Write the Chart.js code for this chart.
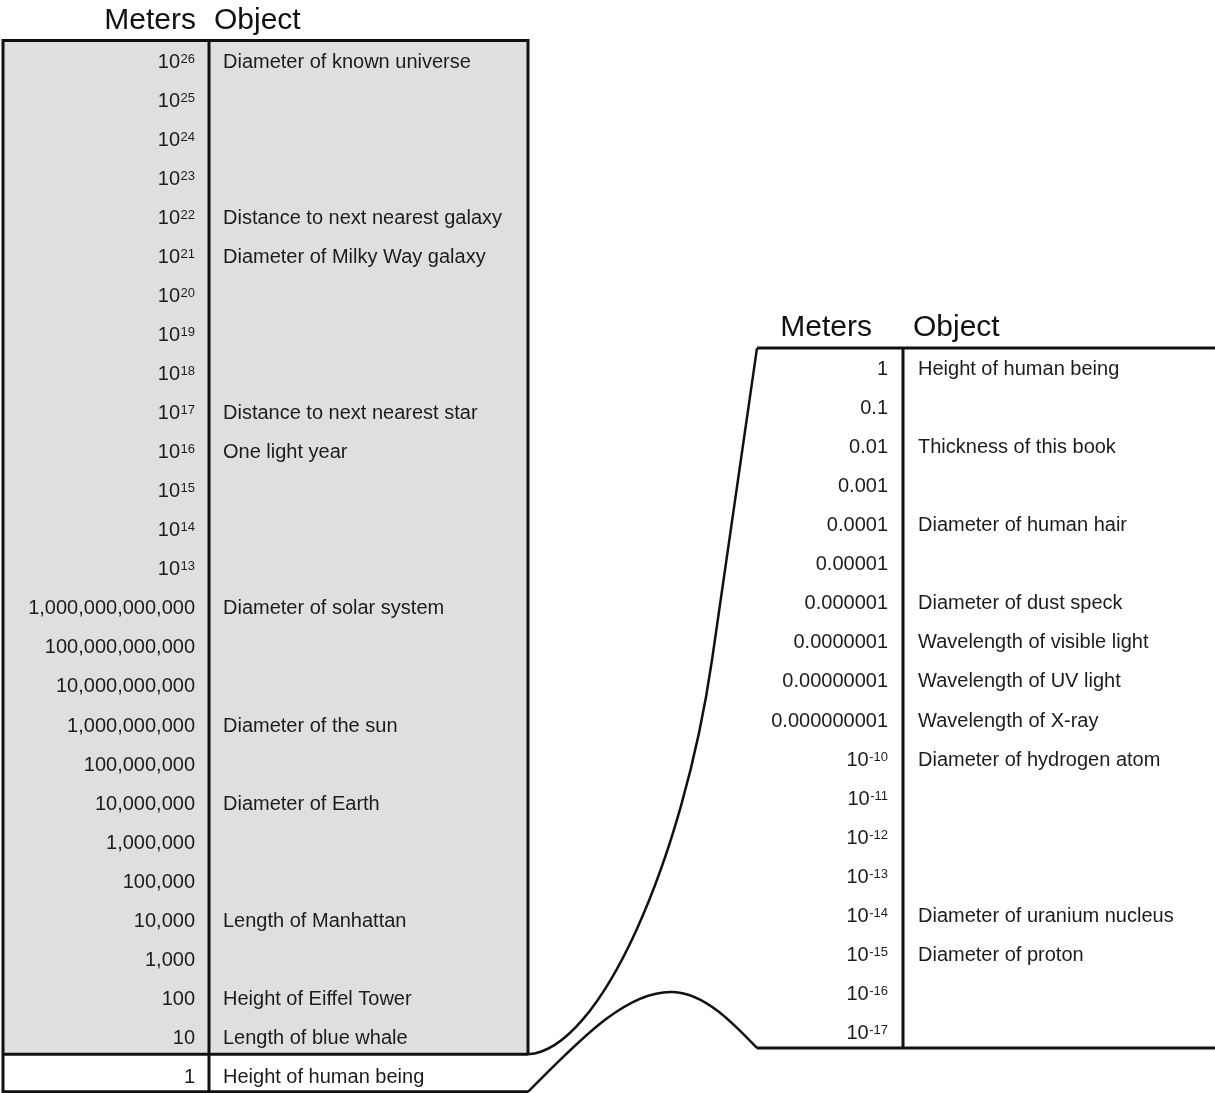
<!DOCTYPE html>
<html>
<head>
<meta charset="utf-8">
<title>Powers of ten</title>
<script src="https://cdn.jsdelivr.net/npm/chart.js@4.4.1/dist/chart.umd.min.js"></script>
<style>
  html, body { margin: 0; padding: 0; background: #fff; }
  #wrap { width: 1215px; height: 1093px; }
</style>
</head>
<body>
<div id="wrap"><canvas id="scaleChart" width="1215" height="1093"></canvas></div>
<script>
// left table: 10^26 m down to 1 m (values are powers of ten)
var leftExponents = [26, 25, 24, 23, 22, 21, 20, 19, 18, 17, 16, 15, 14, 13, 12, 11, 10, 9, 8, 7, 6, 5, 4, 3, 2, 1, 0];
var leftMeters = ["10^26", "10^25", "10^24", "10^23", "10^22", "10^21", "10^20", "10^19", "10^18",
  "10^17", "10^16", "10^15", "10^14", "10^13", "1,000,000,000,000", "100,000,000,000",
  "10,000,000,000", "1,000,000,000", "100,000,000", "10,000,000", "1,000,000", "100,000",
  "10,000", "1,000", "100", "10", "1"];
var leftObjects = ["Diameter of known universe", "", "", "", "Distance to next nearest galaxy",
  "Diameter of Milky Way galaxy", "", "", "", "Distance to next nearest star", "One light year",
  "", "", "", "Diameter of solar system", "", "", "Diameter of the sun", "", "Diameter of Earth",
  "", "", "Length of Manhattan", "", "Height of Eiffel Tower", "Length of blue whale",
  "Height of human being"];

// right table: 1 m down to 10^-17 m
var rightExponents = [0, -1, -2, -3, -4, -5, -6, -7, -8, -9, -10, -11, -12, -13, -14, -15, -16, -17];
var rightMeters = ["1", "0.1", "0.01", "0.001", "0.0001", "0.00001", "0.000001", "0.0000001",
  "0.00000001", "0.000000001", "10^-10", "10^-11", "10^-12", "10^-13", "10^-14", "10^-15",
  "10^-16", "10^-17"];
var rightObjects = ["Height of human being", "", "Thickness of this book", "",
  "Diameter of human hair", "", "Diameter of dust speck", "Wavelength of visible light",
  "Wavelength of UV light", "Wavelength of X-ray", "Diameter of hydrogen atom", "", "", "",
  "Diameter of uranium nucleus", "Diameter of proton", "", ""];

var headers = ["Meters", "Object"];

// layout (pixels on the x scale, axis units on the y scales)
var L = { edge: 3, divider: 209, right: 528, metersX: 195, objectX: 223, headMetersX: 196, headObjectX: 214,
          top: 26.52, split: 0.55, bottom: -0.41, headBase: 26.82 };
var R = { edge: 757, divider: 903, right: 1215, metersX: 888, objectX: 918, headMetersX: 872, headObjectX: 913,
          top: 0.51, bottom: -17.41, headBase: 0.81 };

var ROW_FONT = '20px "Liberation Sans", Arial, sans-serif';
var SUP_FONT = '13px "Liberation Sans", Arial, sans-serif';
var HEAD_FONT = '30px "Liberation Sans", Arial, sans-serif';
var INK = '#1c1c1c';
var SHADE = '#dfdfe0';

function drawMeters(ctx, label, x, y) {
  var parts = label.split('^');
  ctx.textAlign = 'right';
  ctx.textBaseline = 'alphabetic';
  if (parts.length === 1) {
    ctx.font = ROW_FONT;
    ctx.fillText(label, x, y + 7);
    return;
  }
  ctx.font = SUP_FONT;
  var supW = ctx.measureText(parts[1]).width;
  ctx.fillText(parts[1], x, y + 2);
  ctx.font = ROW_FONT;
  ctx.fillText(parts[0], x - supW - 0.5, y + 7);
}

var tablePlugin = {
  id: 'tablePlugin',
  beforeDatasetsDraw: function (chart) {
    var ctx = chart.ctx, yL = chart.scales.yL, yR = chart.scales.yR, x = chart.scales.x;
    var lt = yL.getPixelForValue(L.top), ls = yL.getPixelForValue(L.split), lb = yL.getPixelForValue(L.bottom);
    var rt = yR.getPixelForValue(R.top), rb = yR.getPixelForValue(R.bottom);
    var le = x.getPixelForValue(L.edge), ld = x.getPixelForValue(L.divider), lr = x.getPixelForValue(L.right);
    var re = x.getPixelForValue(R.edge), rd = x.getPixelForValue(R.divider), rr = x.getPixelForValue(R.right);
    ctx.save();
    ctx.fillStyle = SHADE;
    ctx.fillRect(le, lt, lr - le, ls - lt);
    ctx.strokeStyle = '#111';
    ctx.lineWidth = 3;
    ctx.lineJoin = 'miter';
    // left frame
    ctx.beginPath();
    ctx.moveTo(le, chart.height + 2); ctx.lineTo(le, lt); ctx.lineTo(lr, lt); ctx.lineTo(lr, ls);
    ctx.moveTo(le, ls); ctx.lineTo(lr, ls);
    ctx.moveTo(le, lb); ctx.lineTo(lr, lb);
    ctx.moveTo(ld, lt); ctx.lineTo(ld, chart.height + 2);
    ctx.stroke();
    // right frame
    ctx.beginPath();
    ctx.moveTo(rr + 2, rt); ctx.lineTo(re, rt);
    ctx.moveTo(re, rb); ctx.lineTo(rr + 2, rb);
    ctx.moveTo(rd, rt); ctx.lineTo(rd, rb + 1);
    ctx.stroke();
    // zoom connectors
    ctx.lineWidth = 2.5;
    ctx.beginPath();
    ctx.moveTo(lr, ls);
    ctx.bezierCurveTo(600, ls - 4, 683, 860, 712, 660);
    ctx.lineTo(re, rt);
    ctx.stroke();
    ctx.beginPath();
    ctx.moveTo(lr, lb);
    ctx.bezierCurveTo(575, 1045, 625, 990, 673, 992);
    ctx.bezierCurveTo(705, 993, 735, 1025, re, rb);
    ctx.stroke();
    ctx.restore();
  },
  afterDatasetsDraw: function (chart) {
    var ctx = chart.ctx, x = chart.scales.x;
    ctx.save();
    ctx.fillStyle = INK;
    var left = chart.getDatasetMeta(0).data, right = chart.getDatasetMeta(1).data;
    left.forEach(function (pt, i) {
      drawMeters(ctx, leftMeters[i], pt.x, pt.y);
      ctx.font = ROW_FONT; ctx.textAlign = 'left';
      ctx.fillText(leftObjects[i], x.getPixelForValue(L.objectX), pt.y + 7);
    });
    right.forEach(function (pt, i) {
      drawMeters(ctx, rightMeters[i], pt.x, pt.y);
      ctx.font = ROW_FONT; ctx.textAlign = 'left';
      ctx.fillText(rightObjects[i], x.getPixelForValue(R.objectX), pt.y + 7);
    });
    // column headers
    ctx.fillStyle = '#111';
    ctx.font = HEAD_FONT;
    ctx.textBaseline = 'alphabetic';
    var hl = chart.scales.yL.getPixelForValue(L.headBase), hr = chart.scales.yR.getPixelForValue(R.headBase);
    ctx.textAlign = 'right';
    ctx.fillText(headers[0], x.getPixelForValue(L.headMetersX), hl);
    ctx.fillText(headers[0], x.getPixelForValue(R.headMetersX), hr);
    ctx.textAlign = 'left';
    ctx.fillText(headers[1], x.getPixelForValue(L.headObjectX), hl);
    ctx.fillText(headers[1], x.getPixelForValue(R.headObjectX), hr);
    ctx.restore();
  }
};

new Chart(document.getElementById('scaleChart').getContext('2d'), {
  type: 'scatter',
  data: {
    datasets: [{
      label: 'Meters (large)',
      data: leftExponents.map(function (e) { return { x: L.metersX, y: e }; }),
      xAxisID: 'x', yAxisID: 'yL',
      pointRadius: 0
    }, {
      label: 'Meters (small)',
      data: rightExponents.map(function (e) { return { x: R.metersX, y: e }; }),
      xAxisID: 'x', yAxisID: 'yR',
      pointRadius: 0
    }]
  },
  options: {
    responsive: false,
    animation: false,
    layout: { padding: 0 },
    plugins: { legend: { display: false }, tooltip: { enabled: false } },
    scales: {
      x: { type: 'linear', min: 0, max: 1215, display: false },
      yL: { type: 'linear', position: 'left', min: -0.44, max: 27.56, display: false },
      yR: { type: 'linear', position: 'right', min: -18.56, max: 9.42, display: false }
    }
  },
  plugins: [tablePlugin]
});
</script>
</body>
</html>
